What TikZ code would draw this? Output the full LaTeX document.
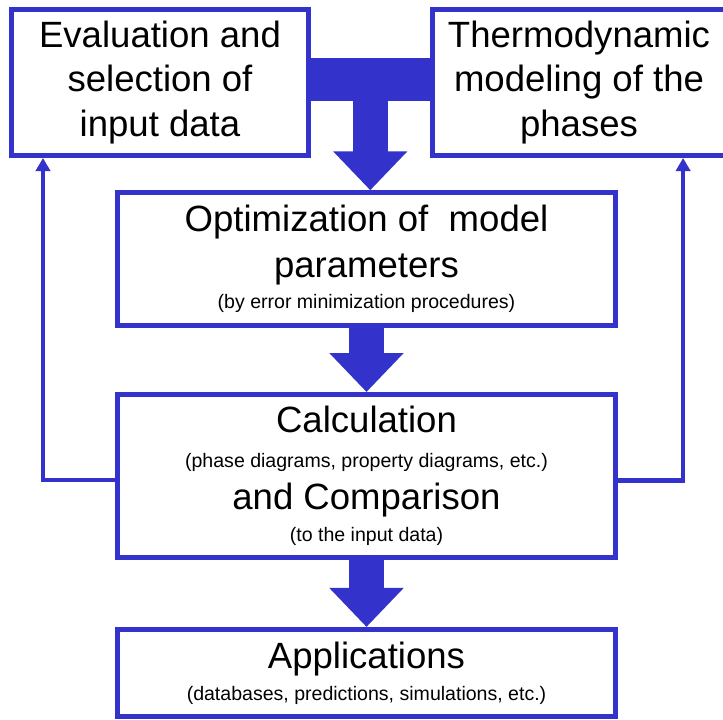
\documentclass[tikz,border=0pt]{standalone}
\usepackage{fontspec}
\setmainfont{Liberation Sans}
\usepackage{xcolor}
\usepackage{tikz}
\usetikzlibrary{arrows.meta,positioning,calc}
\definecolor{flowblue}{RGB}{51,51,204}
\newcommand{\bigtxt}{\fontsize{26}{31.5}\selectfont}
\newcommand{\smalltxt}{\fontsize{13.9}{17}\selectfont}

\begin{document}
\begin{tikzpicture}[
    >=Latex,
    every node/.style={font=\bigtxt},
    stage/.style={draw=flowblue,line width=0.125cm,align=center,inner sep=0pt},
    fat/.style={flowblue,line width=0.875cm,-{Triangle[length=0.975cm,width=1.8cm]}},
    back/.style={flowblue,line width=0.11cm,-{Triangle[length=0.33cm,width=0.36cm]}}
]
\useasboundingbox (0,0) rectangle (18.075,-17.975);
\node[stage,minimum width=7.425cm,minimum height=3.65cm] (L) at (4.0,-2.0625) {Evaluation and\\selection of\\input data};
\node[stage,minimum width=7.35cm,minimum height=3.65cm] (R) at (14.475,-2.0625) {Thermodynamic\\modeling of the\\phases};
\node[stage,minimum width=12.45cm,minimum height=3.3125cm] (O) at (9.1625,-6.475) {Optimization of\ \ model\\[1pt]parameters\\[-9pt]{\smalltxt (by error minimization procedures)}};
\node[stage,minimum width=12.45cm,minimum height=4.0625cm] (C) at (9.1625,-11.894) {Calculation\\[-7pt]{\smalltxt (phase diagrams, property diagrams, etc.)}\\[-1.5pt]and Comparison\\[-9pt]{\smalltxt (to the input data)}};
\node[stage,minimum width=12.45cm,minimum height=2.1875cm] (A) at (9.1625,-16.83) {Applications\\[-8.5pt]{\smalltxt (databases, predictions, simulations, etc.)}};

% joint input into the optimization
\coordinate (J) at ($(L.east)!0.5!(R.west)$);
\draw[flowblue,line width=1.075cm] ([yshift=0.075cm]L.east) -- ([yshift=0.075cm]R.west);
\draw[fat] ([yshift=0.075cm]J) -- (O.north -| J);
\draw[fat] (O.south) -- (C.north);
\draw[fat] (C.south) -- (A.north);

% feedback loops
\draw[back] ([yshift=-0.1cm]C.west) -| ([xshift=0.85cm]L.south west);
\draw[back] ([yshift=-0.12cm]C.east) -| ([xshift=6.34cm]R.south west);
\end{tikzpicture}
\end{document}
